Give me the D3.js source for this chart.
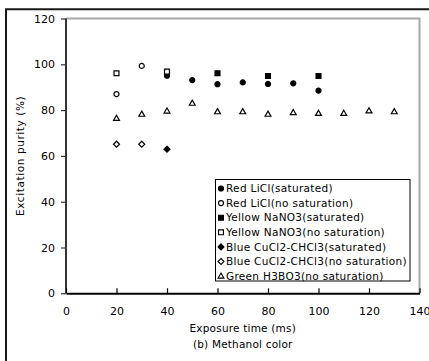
<!DOCTYPE html>
<html>
<head>
<meta charset="utf-8">
<script src="https://cdn.jsdelivr.net/npm/d3@7"></script>
<style>
body { margin: 0; background: #fff; }
text { font-family: "DejaVu Sans", Verdana, sans-serif; fill: #000; }
</style>
</head>
<body>
<div id="chart"></div>
<script>
// series values
var redSatX = [40, 50, 60, 70, 80, 90, 100];
var redSatY = [95.0, 93.1, 91.3, 92.1, 91.4, 91.7, 88.5];
var redNoX = [20, 30];
var redNoY = [87.0, 99.3];
var yelSatX = [60, 80, 100];
var yelSatY = [96.1, 94.9, 94.9];
var yelNoX = [20, 40];
var yelNoY = [96.1, 96.8];
var bluSatX = [40];
var bluSatY = [62.9];
var bluNoX = [20, 30];
var bluNoY = [65.1, 65.1];
var grnNoX = [20, 30, 40, 50, 60, 70, 80, 90, 100, 110, 120, 130];
var grnNoY = [76.4, 78.2, 79.6, 83.0, 79.3, 79.3, 78.2, 78.9, 78.6, 78.6, 79.7, 79.3];

var seriesNames = ['Red  LiCl(saturated)', 'Red  LiCl(no saturation)',
	'Yellow NaNO3(saturated)', 'Yellow NaNO3(no saturation)',
	'Blue CuCl2-CHCl3(saturated)', 'Blue CuCl2-CHCl3(no saturation)',
	'Green H3BO3(no saturation)'];
var xTicks = [0, 20, 40, 60, 80, 100, 120, 140];
var yTicks = [0, 20, 40, 60, 80, 100, 120];

var width = 429, height = 361;
var fontFam = '"DejaVu Sans", Verdana, sans-serif';

var series = [
	{name: seriesNames[0], xs: redSatX, ys: redSatY, shape: 'circle', filled: true},
	{name: seriesNames[1], xs: redNoX, ys: redNoY, shape: 'circle', filled: false},
	{name: seriesNames[2], xs: yelSatX, ys: yelSatY, shape: 'square', filled: true},
	{name: seriesNames[3], xs: yelNoX, ys: yelNoY, shape: 'square', filled: false},
	{name: seriesNames[4], xs: bluSatX, ys: bluSatY, shape: 'diamond', filled: true},
	{name: seriesNames[5], xs: bluNoX, ys: bluNoY, shape: 'diamond', filled: false},
	{name: seriesNames[6], xs: grnNoX, ys: grnNoY, shape: 'triangle', filled: false}
];

var diamond = {
	draw: function(ctx, size) {
		var r = Math.sqrt(size / 2);
		ctx.moveTo(0, -r);
		ctx.lineTo(r, 0);
		ctx.lineTo(0, r);
		ctx.lineTo(-r, 0);
		ctx.closePath();
	}
};
var triangle = {
	draw: function(ctx, size) {
		var s = Math.sqrt(size * 4 / Math.sqrt(3));
		var h = s * Math.sqrt(3) / 2;
		ctx.moveTo(0, -h * 0.6);
		ctx.lineTo(s / 2, h * 0.4);
		ctx.lineTo(-s / 2, h * 0.4);
		ctx.closePath();
	}
};
var shapes = {
	circle: {type: d3.symbolCircle, size: 20},
	square: {type: d3.symbolSquare, size: 24},
	diamond: {type: diamond, size: 18},
	triangle: {type: triangle, size: 15}
};
function symbolPath(shape) {
	return d3.symbol().type(shapes[shape].type).size(shapes[shape].size)();
}

var svg = d3.select('#chart').append('svg')
	.attr('width', width)
	.attr('height', height);

// outer frame (only top and left visible)
svg.append('path')
	.attr('d', 'M6,' + (height + 5) + 'V9.3H' + (width + 5))
	.attr('fill', 'none')
	.attr('stroke', '#1a1a1a')
	.attr('stroke-width', 2);

var x = d3.scaleLinear().domain([0, 140]).range([66, 419.5]);
var y = d3.scaleLinear().domain([0, 120]).range([293.3, 18.5]);

// plot area border (gray top/right)
svg.append('path')
	.attr('d', 'M' + x(0) + ',' + y(120) + 'H' + x(140) + 'V' + y(0))
	.attr('fill', 'none')
	.attr('stroke', '#a8a8a8')
	.attr('stroke-width', 2);

// y axis
var yAxis = svg.append('g')
	.attr('transform', 'translate(' + x(0) + ',0)')
	.call(d3.axisLeft(y).tickValues(yTicks).tickSize(5).tickPadding(6));
yAxis.select('.domain').attr('stroke', '#333').attr('stroke-width', 2)
	.attr('d', 'M0,' + y(0) + 'V' + y(120));
yAxis.selectAll('.tick line').attr('stroke', '#333').attr('stroke-width', 1.2);
yAxis.selectAll('.tick text')
	.style('font-family', fontFam)
	.style('font-size', '11px').attr('fill', '#000');

// x axis, ticks pointing up into the plot
var xAxis = svg.append('g')
	.attr('transform', 'translate(0,' + y(0) + ')')
	.call(d3.axisBottom(x).tickValues(xTicks).tickSizeInner(-5).tickSizeOuter(0).tickPadding(14));
xAxis.select('.domain').attr('stroke', '#000').attr('stroke-width', 2);
xAxis.selectAll('.tick line').attr('stroke', '#000').attr('stroke-width', 1.2);
xAxis.selectAll('.tick text')
	.style('font-family', fontFam)
	.style('font-size', '11px').attr('fill', '#000');

// axis titles
svg.append('text')
	.attr('transform', 'translate(24,' + ((y(0) + y(120)) / 2) + ') rotate(-90)')
	.attr('text-anchor', 'middle')
	.style('font-size', '10.5px')
	.style('letter-spacing', '0.6px')
	.text('Excitation purity (%)');

svg.append('text')
	.attr('x', (x(0) + x(140)) / 2)
	.attr('y', 332)
	.attr('text-anchor', 'middle')
	.style('font-size', '10.5px')
	.style('letter-spacing', '0.2px')
	.text('Exposure time (ms)');

svg.append('text')
	.attr('x', (x(0) + x(140)) / 2)
	.attr('y', 348)
	.attr('text-anchor', 'middle')
	.style('font-size', '10.5px')
	.style('letter-spacing', '0.2px')
	.text('(b) Methanol color');

// points
var pts = svg.append('g').attr('class', 'points');
series.forEach(function(s) {
	var d = s.xs.map(function(v, i) { return [v, s.ys[i]]; });
	pts.selectAll(null)
		.data(d)
		.enter().append('path')
		.attr('d', symbolPath(s.shape))
		.attr('transform', function(p) { return 'translate(' + x(p[0]) + ',' + y(p[1]) + ')'; })
		.attr('fill', s.filled ? '#000' : '#fff')
		.attr('stroke', '#000')
		.attr('stroke-width', 1.2);
});

// legend
var legend = svg.append('g').attr('class', 'legend');
legend.append('rect')
	.attr('x', 215.5).attr('y', 179.5)
	.attr('width', 194.5).attr('height', 101.5)
	.attr('fill', '#fff')
	.attr('stroke', '#000')
	.attr('stroke-width', 1);

var rows = legend.selectAll('g.row')
	.data(series)
	.enter().append('g')
	.attr('class', 'row')
	.attr('transform', function(d, i) { return 'translate(221,' + (188.5 + i * 14.6) + ')'; });

rows.append('path')
	.attr('d', function(d) { return symbolPath(d.shape); })
	.attr('fill', function(d) { return d.filled ? '#000' : '#fff'; })
	.attr('stroke', '#000')
	.attr('stroke-width', 1.1);

rows.append('text')
	.attr('x', 5)
	.attr('dy', '0.36em')
	.style('font-size', '10.5px')
	.style('letter-spacing', '0.3px')
	.text(function(d) { return d.name; });
</script>
</body>
</html>
